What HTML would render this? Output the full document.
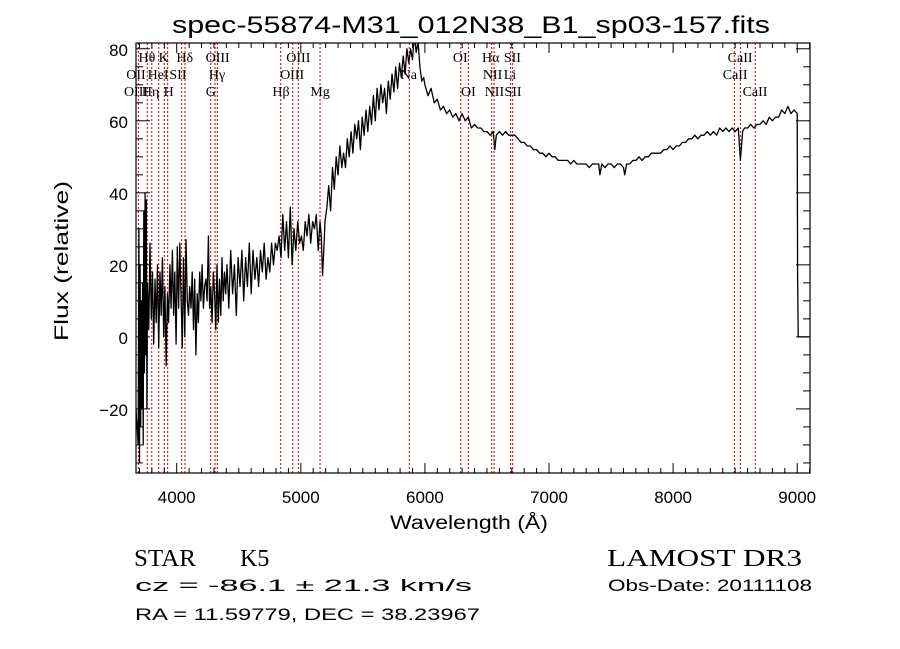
<!DOCTYPE html>
<html><head><meta charset="utf-8"><style>
html,body{margin:0;padding:0;background:#fff;}
svg{display:block;}
text{fill:#000;}
.t{font-family:"Liberation Sans",sans-serif;}
.s{font-family:"Liberation Serif",serif;}
</style></head><body>
<svg id="chart" width="900" height="649" viewBox="0 0 900 649" xmlns="http://www.w3.org/2000/svg">
<rect width="900" height="649" fill="#fff"/>
<text class="t" x="172" y="33" font-size="24" textLength="598" lengthAdjust="spacingAndGlyphs">spec-55874-M31_012N38_B1_sp03-157.fits</text>
<g id="lines"></g>
<g id="labels"></g>
<g clip-path="url(#clip)"><path id="spec" fill="none" stroke="#000" stroke-width="1.3" stroke-linejoin="round"/></g>
<clipPath id="clip"><rect x="136" y="43" width="674" height="430"/></clipPath>
<rect x="136" y="43" width="674" height="430" fill="none" stroke="#000" stroke-width="1.2"/>
<g id="ticks" stroke="#000" stroke-width="1"></g>
<g id="ticklabels" class="t" font-size="17"></g>
<text class="t" x="390" y="529" font-size="19" textLength="158" lengthAdjust="spacingAndGlyphs">Wavelength (Å)</text>
<text class="t" font-size="19" transform="translate(68,341) rotate(-90)" textLength="160" lengthAdjust="spacingAndGlyphs">Flux (relative)</text>
<text class="s" x="134" y="566" font-size="24" textLength="62" lengthAdjust="spacingAndGlyphs">STAR</text>
<text class="s" x="240" y="566" font-size="24">K5</text>
<text class="t" x="135" y="591" font-size="17" textLength="337" lengthAdjust="spacingAndGlyphs">cz = -86.1 ± 21.3 km/s</text>
<text class="t" x="135" y="620" font-size="17" textLength="345" lengthAdjust="spacingAndGlyphs">RA =  11.59779, DEC =  38.23967</text>
<text class="s" x="607" y="566" font-size="24" textLength="195" lengthAdjust="spacingAndGlyphs">LAMOST DR3</text>
<text class="t" x="608" y="591" font-size="17" textLength="204" lengthAdjust="spacingAndGlyphs">Obs-Date: 20111108</text>
</svg>
<script>
const waves=[3672,3690,3695,3700,3705,3710,3715,3720,3725,3730,3735,3740,3745,3750,3755,3760,
3765,3775,3785,3795,3805,3815,3825,3835,3845,3855,3865,3875,3885,3895,3905,3915,3925,3935,3945,3955,3965,3975,3985,3995,4005,4015,4025,4035,4045,4055,4065,4075,4085,4095,4105,4115,4125,4135,4145,4155,4165,4175,4185,4195,4205,4215,4225,4235,4245,4255,4265,4275,4285,4295,4305,4315,4325,4335,4345,4355,4365,4375,4385,4395,
4405,4420,4435,4450,4465,4480,4495,4510,4525,4540,4555,4570,4585,4600,4615,4630,4645,4660,4675,4690,4705,4720,4735,4750,4765,4780,4795,4810,4825,4840,4855,4870,4885,4900,4915,4930,4945,4960,4975,4990,5005,5020,5035,5050,5065,5080,5095,5110,5125,5140,5155,5165,5175,5185,5195,
5210,5225,5240,5255,5270,5285,5300,5315,5330,5345,5360,5375,5390,5405,5420,5435,5450,5465,5480,5495,5510,5525,5540,5555,5570,5585,5600,5615,5630,5645,5660,5675,5690,5705,5720,5735,5750,5765,5780,5795,5810,5825,5840,5855,5870,5885,5900,5915,5930,5945,5960,5975,5990,
6000,6025,6050,6075,6100,6125,6150,6175,6200,6225,6250,6275,6300,6325,6350,6375,6400,6425,6450,6475,6500,6525,6550,6563,6575,6600,6625,6650,6675,6700,6725,6750,6775,6800,6825,6850,6875,6900,6925,6950,6975,7000,7025,7050,7075,7100,7125,7150,7175,7200,7225,7250,7275,7300,7325,7350,7375,7400,7410,7425,7450,7475,7500,7525,7550,7575,7600,7610,7625,7650,7675,7700,7725,7750,7775,7800,7825,7850,7875,7900,7925,7950,7975,8000,8025,8050,8075,8100,8125,8150,8175,8200,8225,8250,8275,8300,8325,8350,8375,8400,8425,8450,8475,8500,8525,8542,8560,8575,8600,8625,8650,8675,8700,8725,8750,8775,8800,8825,8850,8875,8900,8925,8950,8975,9000,9003,9005,9008,9110];
const flux=[-20,-30,30,-35,20,-25,10,-20,15,-30,35,-10,40,-5,38,-20,
15,2,26,5,18,-2,16,4,20,-3,18,6,22,0,14,-8,12,4,20,8,24,6,18,-2,25,8,26,12,-3,22,0,27,10,6,14,8,18,2,16,-5,12,4,18,10,20,8,14,16,10,28,8,14,4,18,12,2,20,4,16,6,22,10,18,12,
20,8,24,12,20,6,22,14,24,10,22,14,26,12,24,16,22,14,24,18,26,16,22,18,26,20,26,24,28,22,34,24,32,22,36,20,30,24,32,26,28,24,32,28,34,26,32,30,34,24,32,28,17,24,32,
36,42,35,47,41,50,45,53,47,51,47,55,50,57,51,59,55,60,52,61,56,63,57,64,59,67,60,69,63,70,65,69,62,71,66,73,68,75,69,76,72,78,73,80,76,80,77,84,79,82,75,71,72,
70,67,69,65,66,63,64,62,63,61,62,60,62,60,61,58,59,58,58,57,57,56,57,52,56,57,56,57,56,56,56,55,54,54,53,53,52,52,51,51,50,51,50,50,49,49,49,49,48,49,48,48,48,48,47,48,48,48,45,48,47,48,48,47,48,48,47,45,48,48,49,49,50,49,50,50,51,51,51,51,52,52,53,52,53,53,54,54,55,55,56,55,56,56,57,56,57,56,58,57,58,57,58,57,58,49,57,58,58,59,58,59,59,60,59,61,60,61,61,63,62,64,62,63,62,17,12,0,0];
const xTicks=[4000,5000,6000,7000,8000,9000];
const yTicks=[-20,0,20,40,60,80];
const markerWaves=[3691,3763,3799,3855,3900,3927,4040,4067,4274,4309,4327,4838,4935,4980,5155,5874,6289,6350,6538,6557,6691,6707,8493,8542,8662];
const labelNames=["Hθ","K","Hδ","OIII","OIII","OI","Hα","SII","CaII","OII","HeI","SII","Hγ","OIII","Na","NII","Li","CaII","OIII","Hη","H","G","Hβ","Mg","OI","NII","SII","CaII"];
const labelWaves=[3760,3895,4065,4330,4980,6285,6530,6705,8540,3672,3850,4010,4325,4930,5870,6545,6685,8500,3672,3790,3935,4275,4840,5155,6350,6560,6710,8660];
const labelRows=[0,0,0,0,0,0,0,0,0,1,1,1,1,1,1,1,1,1,2,2,2,2,2,2,2,2,2,2];

const X0=136,X1=810,Y0=43,Y1=473,W0=3672,W1=9103,F0=-37.8,F1=81.6;
function xs(w){return X0+(w-W0)/(W1-W0)*(X1-X0);}
function ys(f){return Y1-(f-F0)/(F1-F0)*(Y1-Y0);}
const NS="http://www.w3.org/2000/svg";
function mk(tag,attrs,parent){const e=document.createElementNS(NS,tag);for(const k in attrs)e.setAttribute(k,attrs[k]);parent.appendChild(e);return e;}

let d="";
for(let i=0;i<waves.length;i++){d+=(i?"L":"M")+xs(waves[i]).toFixed(1)+","+ys(flux[i]).toFixed(1);}
document.getElementById("spec").setAttribute("d",d);

const lg=document.getElementById("lines");
markerWaves.forEach(w=>{
  const l=mk("line",{x1:xs(w),x2:xs(w),y1:Y0,y2:Y1,stroke:"#c00000","stroke-width":1,"stroke-dasharray":"2,2"},lg);
  
  
});
const lb=document.getElementById("labels");
labelNames.forEach((n,i)=>{
  const t=mk("text",{x:xs(labelWaves[i]),y:62+labelRows[i]*17,"text-anchor":"middle","font-size":14,class:"s"},lb);
  t.textContent=n;
  
  
});

const tg=document.getElementById("ticks"),tl=document.getElementById("ticklabels");
for(let w=3700;w<=9100;w+=100){
  const big=(w%1000===0);const L=big?10:5;
  const a=mk("line",{x1:xs(w),x2:xs(w),y1:Y1,y2:Y1-L},tg);
  
  
  const b=mk("line",{x1:xs(w),x2:xs(w),y1:Y0,y2:Y0+L},tg);
  
  
}
for(let f=-35;f<=80;f+=5){
  const big=(f%20===0);const L=big?14:7;
  const a=mk("line",{x1:X0,x2:X0+L,y1:ys(f),y2:ys(f)},tg);
  
  
  const b=mk("line",{x1:X1,x2:X1-L,y1:ys(f),y2:ys(f)},tg);
  
  
}
xTicks.forEach(w=>{
  const t=mk("text",{x:xs(w),y:503,"text-anchor":"middle"},tl);
  t.textContent=w;
  
  
});
yTicks.forEach(f=>{
  const t=mk("text",{x:128,y:ys(f)+7,"text-anchor":"end"},tl);
  t.textContent=f<0?"\u2212"+(-f):f;
  
  
});
</script>
</body></html>
